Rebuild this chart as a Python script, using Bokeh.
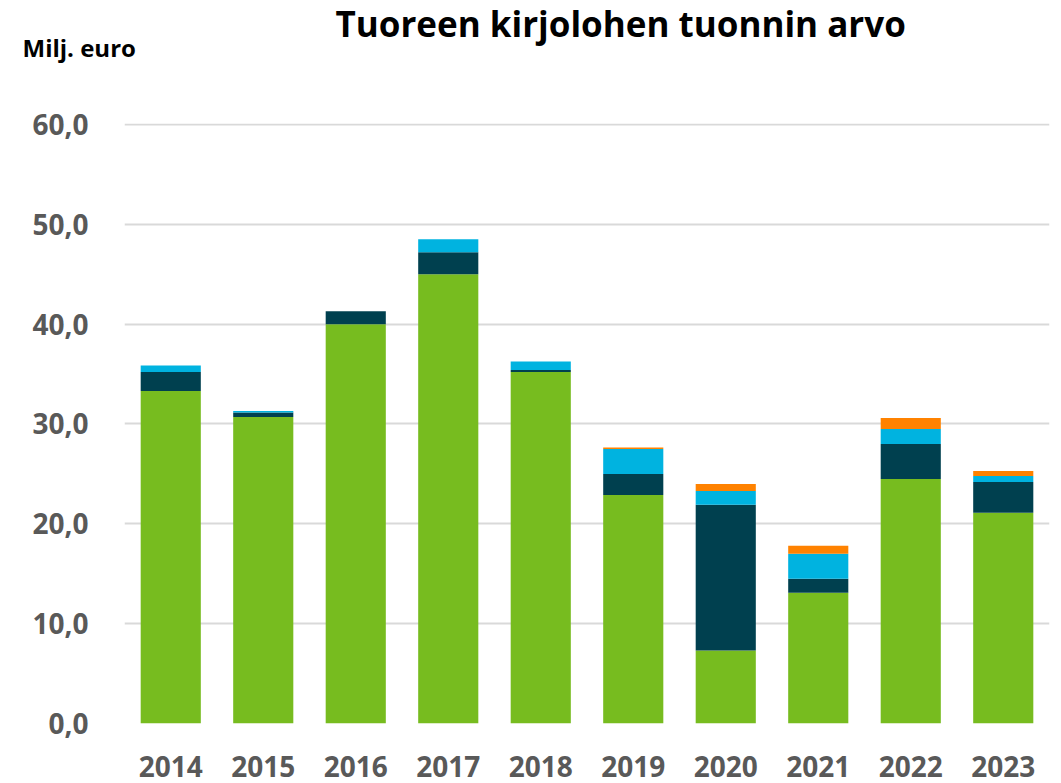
from bokeh.plotting import figure
from bokeh.models import ColumnDataSource, FixedTicker, Title
from bokeh.embed import file_html
from bokeh.resources import INLINE

years = ["2014", "2015", "2016", "2017", "2018", "2019", "2020", "2021", "2022", "2023"]
series_a = [33.3, 30.7, 40.0, 45.0, 35.2, 22.9, 7.3, 13.1, 24.5, 21.1]
series_b = [1.9, 0.45, 1.3, 2.2, 0.2, 2.1, 14.6, 1.4, 3.5, 3.1]
series_c = [0.65, 0.15, 0.0, 1.3, 0.85, 2.5, 1.4, 2.5, 1.5, 0.6]
series_d = [0.0, 0.0, 0.0, 0.0, 0.0, 0.15, 0.7, 0.8, 1.1, 0.5]
y_ticks = [0, 10, 20, 30, 40, 50, 60]
y_tick_labels = ["0,0", "10,0", "20,0", "30,0", "40,0", "50,0", "60,0"]

title_text = "Tuoreen kirjolohen tuonnin arvo"
unit_text = "Milj. euro"

colors = ["#77BC1F", "#00404F", "#00B3E0", "#FF8200"]
keys = ["a", "b", "c", "d"]

source = ColumnDataSource(dict(years=years, a=series_a, b=series_b, c=series_c, d=series_d))

FONT = "Open Sans"

p = figure(x_range=years, y_range=(0, 60.1), width=1053, height=783,
           output_backend="svg", toolbar_location=None,
           min_border_left=124, min_border_right=4, min_border_top=123, min_border_bottom=60)
p.outline_line_color = None

p.vbar_stack(keys, x="years", width=0.65, color=colors, source=source, line_color=None)

p.yaxis.ticker = FixedTicker(ticks=y_ticks)
p.yaxis.major_label_overrides = {t: l for t, l in zip(y_ticks, y_tick_labels)}
for ax in (p.xaxis, p.yaxis):
    ax.axis_line_color = None
    ax.major_tick_line_color = None
    ax.minor_tick_line_color = None
    ax.major_label_text_font = FONT
    ax.major_label_text_font_style = "bold"
    ax.major_label_text_font_size = "28px"
    ax.major_label_text_color = "#595959"
p.yaxis.major_label_standoff = 30
p.xaxis.major_label_standoff = 26

p.xgrid.grid_line_color = None
p.ygrid.grid_line_color = "#D9D9D9"
p.ygrid.grid_line_width = 2
p.ygrid.ticker = FixedTicker(ticks=y_ticks)

# unit label: padded with blank lines so it sits high in its panel
unit = Title(text=unit_text + "\n \n ", align="left", offset=-102, standoff=-17,
             vertical_align="top",
             text_font=FONT, text_font_style="bold", text_font_size="24px",
             text_color="#000000")
p.add_layout(unit, "above")
main = Title(text=title_text, align="left", offset=211, standoff=-15,
             text_font=FONT, text_font_style="bold", text_font_size="35px",
             text_color="#000000")
p.add_layout(main, "above")

open("out.html", "w").write(file_html(p, INLINE))
